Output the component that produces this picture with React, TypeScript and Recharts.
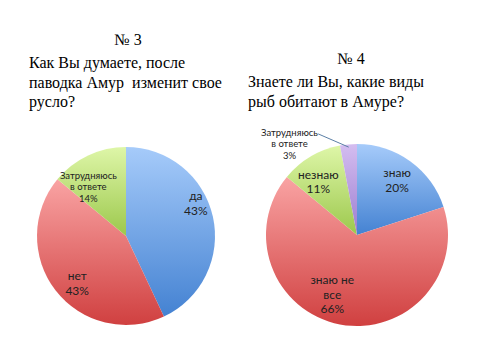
import { PieChart, Pie, Cell } from "recharts"

// № 3 — "Как Вы думаете, после паводка Амур изменит свое русло?"
const Q3_NAMES = ["да", "нет", "Затрудняюсь в ответе"]
const Q3_VALUES = [43, 43, 14]

// № 4 — "Знаете ли Вы, какие виды рыб обитают в Амуре?"
const Q4_NAMES = ["знаю", "знаю не все", "незнаю", "Затрудняюсь в ответе"]
const Q4_VALUES = [20, 66, 11, 3]

const q3Data = Q3_NAMES.map((name, i) => ({ name, value: Q3_VALUES[i] }))
const q4Data = Q4_NAMES.map((name, i) => ({ name, value: Q4_VALUES[i] }))

const GRADS = {
  blue: ["#a6cbfa", "#4482d2"],
  red: ["#f9a3a3", "#d04040"],
  green: ["#def6a8", "#9cc84c"],
  purple: ["#d4bdf0", "#9c7ed0"],
}
const Q3_FILLS = ["blue", "red", "green"]
const Q4_FILLS = ["blue", "red", "green", "purple"]

// label placement tweaks (radius fraction, angle shift in degrees, font size)
const Q3_LABELS = [
  { r: 0.87, shift: 13, size: 12 },
  { r: 0.76, shift: 6, size: 12 },
  { r: 0.7, shift: 12, size: 9.5 },
]
const Q4_LABELS = [
  { r: 0.75, shift: 0, size: 12 },
  { r: 0.7, shift: -12, size: 12 },
  { r: 0.73, shift: 5, size: 12 },
  { r: 1.25, shift: 31, size: 9.5 },
]

const RAD = Math.PI / 180
const LABEL_FONT = "Lato, 'Open Sans', sans-serif"

function splitName(name: string) {
  if (name === "Затрудняюсь в ответе") return ["Затрудняюсь", "в ответе"]
  if (name === "знаю не все") return ["знаю не", "все"]
  return [name]
}

function makeLabel(cfg: { r: number; shift: number; size: number }[]) {
  return (p: any) => {
    const c = cfg[p.index]
    const ang = (p.midAngle + c.shift) * RAD
    const x = p.cx + p.outerRadius * c.r * Math.cos(ang)
    const y = p.cy - p.outerRadius * c.r * Math.sin(ang)
    const lines = [...splitName(p.name), `${p.value}%`]
    const lh = c.size * 1.22
    const y0 = y - ((lines.length - 1) * lh) / 2
    return (
      <g key={`lbl-${p.index}`}>
        <text
          x={x}
          y={y0}
          textAnchor="middle"
          dominantBaseline="central"
          fontFamily={LABEL_FONT}
          fontSize={c.size}
          fill="#222"
        >
          {lines.map((t, i) => (
            <tspan key={i} x={x} dy={i === 0 ? 0 : lh}>
              {t}
            </tspan>
          ))}
        </text>
        {/* leader line for the tiny outside slice */}
        {c.r > 1 && (
          <line
            x1={p.cx + p.outerRadius * 0.97 * Math.cos(p.midAngle * RAD)}
            y1={p.cy - p.outerRadius * 0.97 * Math.sin(p.midAngle * RAD)}
            x2={p.cx + p.outerRadius * 1.19 * Math.cos(111 * RAD)}
            y2={p.cy - p.outerRadius * 1.19 * Math.sin(111 * RAD)}
            stroke="#5b7fa6"
            strokeWidth={1}
          />
        )}
      </g>
    )
  }
}

const TITLE_FONT = "'Liberation Serif', 'Times New Roman', serif"
const NO_MARGIN = { top: 0, right: 0, bottom: 0, left: 0 }

export default function App() {
  return (
    <div style={{ position: "relative", width: 480, height: 360, background: "#fff" }}>
      <style>{"body{margin:0}"}</style>
      <PieChart width={480} height={360} margin={NO_MARGIN}>
        <defs>
          {Object.entries(GRADS).map(([k, [top, bottom]]) => (
            <linearGradient key={k} id={`g-${k}`} x1="0" y1="0" x2="0" y2="1">
              <stop offset="0%" stopColor={top} />
              <stop offset="100%" stopColor={bottom} />
            </linearGradient>
          ))}
        </defs>
        <Pie
          data={q3Data}
          dataKey="value"
          nameKey="name"
          cx={126}
          cy={236}
          outerRadius={89}
          startAngle={90}
          endAngle={-270}
          stroke="none"
          label={makeLabel(Q3_LABELS)}
          labelLine={false}
          isAnimationActive={false}
        >
          {q3Data.map((d, i) => (
            <Cell key={d.name} fill={`url(#g-${Q3_FILLS[i]})`} />
          ))}
        </Pie>
        <Pie
          data={q4Data}
          dataKey="value"
          nameKey="name"
          cx={357}
          cy={235}
          outerRadius={91}
          startAngle={90}
          endAngle={-270}
          stroke="none"
          label={makeLabel(Q4_LABELS)}
          labelLine={false}
          isAnimationActive={false}
        >
          {q4Data.map((d, i) => (
            <Cell key={d.name} fill={`url(#g-${Q4_FILLS[i]})`} />
          ))}
        </Pie>
      </PieChart>
      <svg
        width={480}
        height={360}
        style={{ position: "absolute", left: 0, top: 0, pointerEvents: "none" }}
        fontFamily={TITLE_FONT}
        fontSize={16}
        fill="#000"
      >
        <text x={128} y={45} textAnchor="middle">№ 3</text>
        <text x={29} y={68}>Как Вы думаете, после</text>
        <text x={29} y={88}>{"паводка Амур\u00a0 изменит свое"}</text>
        <text x={29} y={107}>русло?</text>
        <text x={351} y={64} textAnchor="middle">№ 4</text>
        <text x={248} y={87}>Знаете ли Вы, какие виды</text>
        <text x={248} y={107}>рыб обитают в Амуре?</text>
      </svg>
    </div>
  )
}
